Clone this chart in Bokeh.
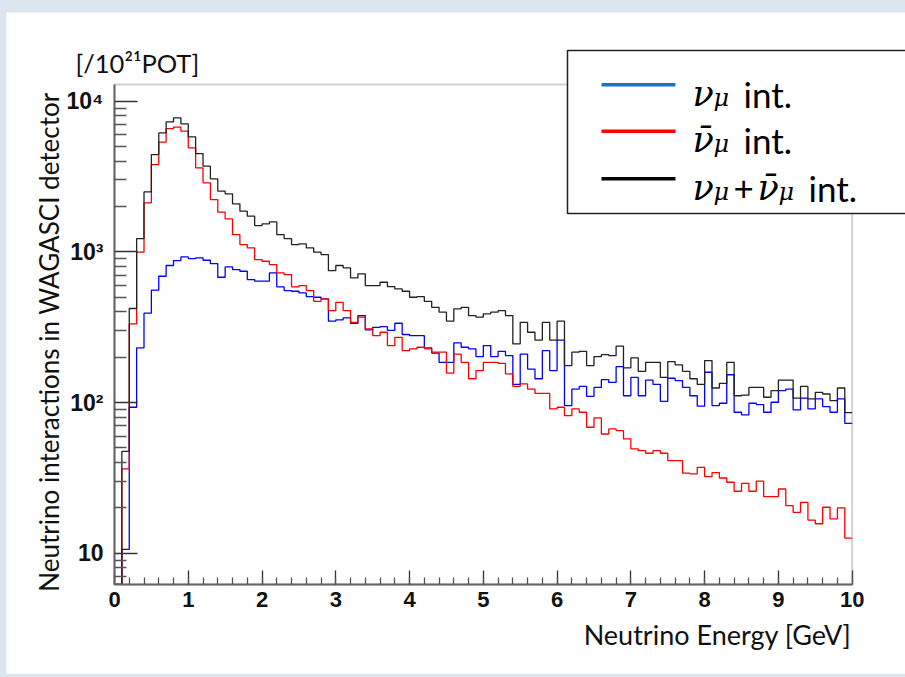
import numpy as np
from bokeh.plotting import figure
from bokeh.models import Range1d, FixedTicker, Label, BoxAnnotation
from bokeh.layouts import column
from bokeh.embed import file_html
from bokeh.resources import INLINE

# Energy binning: 100 bins of 0.1 GeV between 0 and 10 GeV
E_MIN, E_MAX, N_BINS = 0.0, 10.0, 100

# Interactions per 1e21 POT in each energy bin
numu_int = [
    0, 10.6, 93.1, 231, 392, 557, 689, 812, 876, 926,
    903, 913, 880, 837, 679, 795, 763, 744, 655, 639,
    639, 725, 586, 554, 548, 534, 505, 500, 488, 347,
    354, 365, 336, 378, 304, 316, 319, 301, 336, 283,
    278, 278, 231, 213, 185, 185, 249, 233, 227, 202,
    239, 202, 219, 205, 132, 210, 167, 144, 221, 163,
    260, 95.5, 123, 128, 110, 126, 142, 136, 173, 111,
    147, 111, 141, 132, 102, 145, 140, 126, 111, 94.6,
    159, 95.5, 99, 153, 86.3, 82.8, 99, 97, 86.3, 100.5,
    120, 123, 89.4, 107, 90.8, 106, 94.1, 86.3, 106, 72.9,
]

numubar_int = [
    0, 36.3, 333, 995, 2115, 3798, 5344, 6585, 6720, 6322,
    4902, 3610, 2871, 2225, 1834, 1656, 1303, 1119, 1063, 889,
    867, 824, 725, 707, 586, 598, 554, 470, 488, 408,
    463, 408, 341, 369, 308, 278, 293, 239, 271, 221,
    227, 233, 227, 216, 216, 157, 210, 185, 144, 163,
    185, 185, 182, 155, 128, 133, 123, 115, 115, 90.8,
    93.1, 82.0, 90.8, 86.3, 68.6, 79.1, 61.9, 66.9, 65.2, 57.4,
    49.3, 48.0, 46.1, 48.0, 46.1, 41.2, 41.2, 34.0, 33.6, 37.2,
    32.3, 34.3, 31.6, 29.6, 25.8, 29.1, 25.8, 30.1, 23.8, 23.8,
    26.7, 20.7, 18.7, 21.8, 16.6, 15.7, 20.2, 16.9, 20.0, 12.6,
]

total_int = [
    0, 47.5, 421, 1226, 2501, 4426, 6163, 7292, 7752, 7072,
    5799, 4495, 3703, 3051, 2527, 2427, 2083, 1862, 1725, 1495,
    1534, 1582, 1303, 1226, 1119, 1130, 1063, 995, 960, 752,
    812, 783, 672, 715, 598, 598, 629, 589, 568, 548,
    500, 505, 470, 429, 398, 347, 419, 429, 378, 369,
    388, 398, 408, 378, 245, 341, 293, 260, 341, 260,
    347, 176, 216, 219, 176, 202, 208, 205, 237, 170,
    198, 161, 185, 185, 147, 187, 178, 161, 144, 132,
    190, 125, 134, 185, 111, 112, 126, 126, 108.5, 120,
    141, 141, 107, 128, 106, 117, 114, 103, 125, 85.8,
]

x_major_ticks = list(range(0, 11))
y_major_ticks = [10, 100, 1000, 10000]
y_major_labels = ["10", "10²", "10³", "10⁴"]

# Histogram frame (axis bounds) and the wider drawing area around it
Y_MIN, Y_MAX = 6.21, 12900.0
VIEW_X = (-1.464, 10.723)
VIEW_Y = (1.569, 38780.0)

edges = np.linspace(E_MIN, E_MAX, N_BINS + 1)


def step_coords(counts):
    c = np.asarray(counts, dtype=float)
    c = np.where(c > 0, c, Y_MIN)  # empty bins sit on the bottom axis
    return edges, np.append(c, c[-1])


FRAME = "#666666"
TEXT = "#111111"
SANS = "Lato"
MATH = "DejaVu Serif"

p = figure(
    width=899, height=662,
    x_range=Range1d(*VIEW_X), y_range=Range1d(*VIEW_Y),
    y_axis_type="log",
    output_backend="svg", toolbar_location=None,
    min_border=0, min_border_left=0, min_border_right=0,
    min_border_top=0, min_border_bottom=0,
    background_fill_color="white", border_fill_color="white",
    outline_line_color=None,
)
p.title.visible = False
p.grid.visible = False

# x axis, pinned to the bottom of the histogram frame
xa = p.xaxis[0]
xa.fixed_location = Y_MIN
xa.bounds = (E_MIN, E_MAX)
xa.ticker = FixedTicker(ticks=x_major_ticks,
                        minor_ticks=[round(0.2 * i, 1) for i in range(51)])
xa.major_tick_in, xa.major_tick_out = 14, 0
xa.minor_tick_in, xa.minor_tick_out = 7, 0
xa.major_label_standoff = 8
xa.major_label_text_font_size = "22px"

# y axis, pinned to E = 0
ya = p.yaxis[0]
ya.fixed_location = E_MIN
ya.bounds = (Y_MIN, Y_MAX)
y_minor = [k * 10 ** n for n in range(0, 5) for k in range(2, 10)]
ya.ticker = FixedTicker(ticks=y_major_ticks,
                        minor_ticks=[v for v in y_minor if Y_MIN <= v <= Y_MAX])
ya.major_label_overrides = dict(zip(y_major_ticks, y_major_labels))
ya.major_tick_in, ya.major_tick_out = 23, 0
ya.minor_tick_in, ya.minor_tick_out = 12, 0
ya.major_label_standoff = 11
ya.major_label_text_font_size = "23px"

for ax in (xa, ya):
    ax.axis_line_color = FRAME
    ax.axis_line_width = 2
    ax.major_tick_line_color = "#333333"
    ax.minor_tick_line_color = "#555555"
    ax.major_tick_line_width = 1.3
    ax.minor_tick_line_width = 1.3
    ax.major_label_text_font = "Liberation Sans"
    ax.major_label_text_font_style = "bold"
    ax.major_label_text_color = TEXT

# histograms
for counts, color in ((numu_int, "#0000ff"), (numubar_int, "#ff0000"), (total_int, "#222222")):
    xs, ys = step_coords(counts)
    p.step(xs, ys, mode="after", line_color=color, line_width=1.3)

# top and right sides of the histogram frame
p.add_layout(BoxAnnotation(left=E_MIN, right=E_MAX, bottom=Y_MIN, top=Y_MAX,
                           fill_alpha=0.0, line_color=FRAME, line_width=2))

# axis titles and unit note (screen px from the bottom-left corner)
p.add_layout(Label(x=845, y=40, x_units="screen", y_units="screen",
                   text="Neutrino Energy [GeV]", text_align="right", text_baseline="middle",
                   text_font=SANS, text_font_size="27px", text_color=TEXT))
p.add_layout(Label(x=42, y=582, x_units="screen", y_units="screen", angle=np.pi / 2,
                   text="Neutrino interactions in WAGASCI detector", text_align="right",
                   text_baseline="middle", text_font=SANS, text_font_size="26px",
                   text_color=TEXT))
p.add_layout(Label(x=69, y=612, x_units="screen", y_units="screen",
                   text="[/10²¹POT]", text_align="left", text_baseline="middle",
                   text_font=SANS, text_font_size="25.5px", text_color=TEXT))

# legend box
p.add_layout(BoxAnnotation(left=561, right=930, bottom=461, top=624,
                           left_units="screen", right_units="screen",
                           bottom_units="screen", top_units="screen",
                           fill_color="white", fill_alpha=1.0,
                           line_color="#222222", line_width=1.5, line_alpha=1.0))

styles = {
    "nu": dict(text_font=MATH, text_font_style="italic", text_font_size="35px"),
    "sub": dict(text_font=MATH, text_font_style="italic", text_font_size="24px"),
    "txt": dict(text_font=SANS, text_font_style="normal", text_font_size="35px"),
}
legend_rows = [
    ("#1f73c4", 589.7, [("ν", 686, 0, "nu"), ("μ", 707, -4, "sub"), ("int.", 737, 0, "txt")]),
    ("#ff0000", 543.3, [("ν\u0304", 686, 0, "nu"), ("μ", 707, -4, "sub"), ("int.", 737, 0, "txt")]),
    ("#000000", 495.7, [("ν", 686, 0, "nu"), ("μ", 707, -4, "sub"), ("+", 727, 0, "txt"),
                        ("ν\u0304", 751, 0, "nu"), ("μ", 772, -4, "sub"), ("int.", 802, 0, "txt")]),
]
for color, line_y, pieces in legend_rows:
    p.add_layout(BoxAnnotation(left=595, right=669, bottom=line_y - 1.8, top=line_y + 1.8,
                               left_units="screen", right_units="screen",
                               bottom_units="screen", top_units="screen",
                               fill_color=color, fill_alpha=1.0, line_alpha=0.0))
    base = line_y - 9.2
    for text, sx, dy, kind in pieces:
        p.add_layout(Label(x=sx, y=base + dy, x_units="screen", y_units="screen",
                           text=text, text_align="left", text_baseline="alphabetic",
                           text_color="#000000", **styles[kind]))

page = column(p, styles={"background-color": "#dce6f0", "padding": "12px 0px 3px 6px"})
open("out.html", "w").write(file_html(page, INLINE))
